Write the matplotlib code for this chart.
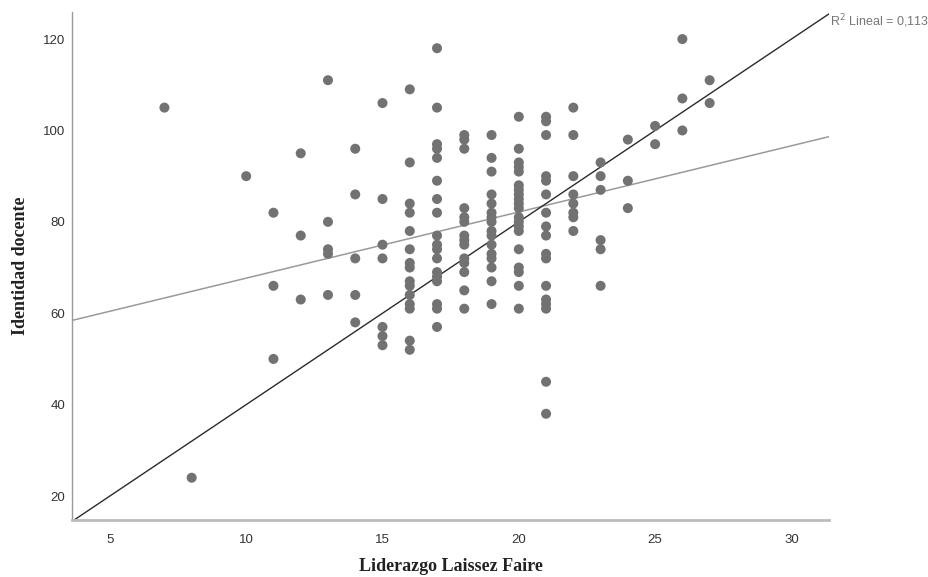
import numpy as np
import matplotlib
matplotlib.use("Agg")
import matplotlib.pyplot as plt

# Data: Liderazgo Laissez Faire (x) vs Identidad docente (y), grouped by x value
x_values = [7, 8, 10, 11, 12, 13, 14, 15, 16, 17, 18, 19, 20, 21, 22, 23, 24, 25, 26, 27]
y_by_x = [
    [105],
    [24],
    [90],
    [82, 66, 50],
    [95, 77, 63],
    [111, 80, 74, 73, 64],
    [96, 86, 72, 64, 58],
    [106, 85, 75, 72, 57, 55, 53],
    [109, 93, 84, 82, 78, 74, 71, 70, 67, 66, 64, 62, 61, 54, 52],
    [118, 105, 97, 96, 94, 89, 85, 82, 77, 75, 74, 72, 69, 68, 67, 62, 61, 57],
    [99, 98, 96, 83, 81, 80, 77, 76, 75, 72, 71, 69, 65, 61],
    [99, 94, 91, 86, 84, 82, 81, 80, 78, 77, 75, 73, 72, 70, 67, 62],
    [103, 96, 93, 92, 91, 88, 87, 86, 85, 84, 83, 81, 80, 79, 78, 74, 70, 69, 66, 61],
    [103, 102, 99, 90, 89, 86, 82, 79, 77, 73, 72, 66, 63, 62, 61, 45, 38],
    [105, 99, 90, 86, 84, 82, 81, 78],
    [93, 90, 87, 76, 74, 66],
    [98, 89, 83],
    [101, 97],
    [120, 107, 100],
    [111, 106],
]
r2_label = "R$^2$ Lineal = 0,113"
ref_slope = 4.0  # dark reference line y = 4x

x = np.concatenate([[xv] * len(ys) for xv, ys in zip(x_values, y_by_x)]).astype(float)
y = np.concatenate(y_by_x).astype(float)

fig = plt.figure(figsize=(9.29, 5.77), dpi=100)
ax = fig.add_axes([0.0775, 0.0988, 0.8149, 0.8802])

xlim = (3.61, 31.38)
ylim = (14.75, 125.9)
ax.set_xlim(*xlim)
ax.set_ylim(*ylim)

ax.scatter(x, y, s=52, color="#727272", edgecolors="none", zorder=3)

# least-squares fit line
slope, intercept = np.polyfit(x, y, 1)
xx = np.array(xlim)
ax.plot(xx, intercept + slope * xx, color="#9a9a9a", lw=1.1, zorder=2)
# reference line
ax.plot(xx, ref_slope * xx, color="#2b2b2b", lw=1.0, zorder=2)

ax.text(xlim[1] + 0.05, ylim[1] - 2.0, r2_label, fontsize=9, color="#777777",
        family="Liberation Sans", ha="left", va="center", clip_on=False)

for s in ["top", "right"]:
    ax.spines[s].set_visible(False)
ax.spines["left"].set_color("#9a9a9a")
ax.spines["left"].set_linewidth(1.0)
ax.spines["bottom"].set_color("#bbbbbb")
ax.spines["bottom"].set_linewidth(2.0)

ax.set_xticks([5, 10, 15, 20, 25, 30])
ax.set_yticks([20, 40, 60, 80, 100, 120])
ax.tick_params(axis="both", length=0, labelsize=9.5, labelcolor="#333333")
ax.tick_params(axis="x", pad=10)
ax.tick_params(axis="y", pad=5)
for lab in ax.get_xticklabels() + ax.get_yticklabels():
    lab.set_family("Liberation Sans")

ax.set_xlabel("Liderazgo Laissez Faire", family="Liberation Serif", fontweight="bold",
              fontsize=13, color="#222222", labelpad=9)
ax.set_ylabel("Identidad docente", family="Liberation Serif", fontweight="bold",
              fontsize=13, color="#222222", labelpad=10)

fig.savefig("out.png", dpi=100, facecolor="white")
